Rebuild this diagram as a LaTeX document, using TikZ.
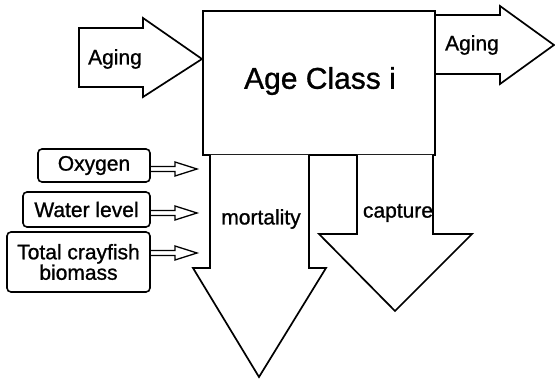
\documentclass[tikz,border=0pt]{standalone}
\usepackage{fontspec}
\setmainfont{Liberation Sans}[BoldFont=Liberation Sans,BoldFeatures={FakeBold=1}]
\begin{document}
\begin{tikzpicture}[x=1pt,y=-1pt,
  outl/.style={draw=black,line width=1.7pt,line join=miter,fill=white},
  lbl/.style={font=\fontsize{21}{23}\selectfont\bfseries,inner sep=0pt},
  factor/.style={draw=black,line width=1.6pt,rounded corners=4pt,fill=white,inner sep=0pt,
    font=\fontsize{21}{21.5}\selectfont\bfseries,align=center},
  dbl/.style={draw=black,line width=1.3pt,fill=white,line join=miter}]
\useasboundingbox (0,0) rectangle (555,382);
% main box
\draw[outl] (203,11) rectangle (435,155);
\node[inner sep=0pt,font=\fontsize{30}{32}\selectfont\bfseries] (main) at (320,81) {Age Class i};
% left aging arrow
\draw[outl] (79,28) -- (143,28) -- (143,18) -- (202,59) -- (143,97) -- (143,87) -- (79,87) -- cycle;
\node[lbl] (agein) at (115,59) {Aging};
% right aging arrow
\draw[outl] (436,15) -- (500,15) -- (500,6) -- (554,45) -- (500,84) -- (500,74) -- (436,74);
\node[lbl] (ageout) at (472,45) {Aging};
% mortality arrow
\draw[outl] (210,155) -- (210,268) -- (193,268) -- (259,377) -- (326,268) -- (309,268) -- (309,155);
\node[lbl] (mort) at (261,219) {mortality};
% capture arrow
\draw[outl] (357,155) -- (357,234) -- (319,234) -- (395,311) -- (472,234) -- (433,234) -- (433,155);
\node[lbl] (capt) at (398,213) {capture};
% factor boxes
\path[factor] (38,149) rectangle (150,182);
\node[factor,draw=none,fill=none] (oxy) at (94,165.5) {Oxygen};
\path[factor] (23,192) rectangle (150,227);
\node[factor,draw=none,fill=none] (water) at (86.5,209.5) {Water level};
\path[factor] (7,232) rectangle (150,292);
\node[factor,draw=none,fill=none] (bio) at (78.5,262) {Total crayfish\\[-1pt]biomass};
% double arrows
\coordinate (o1) at (151,169);
\coordinate (w1) at (151,213);
\coordinate (b1) at (151,253);
\foreach \c in {o1,w1,b1}{
  \draw[dbl] (\c) ++(0,-2.5) -- ++(24,0) -- ++(0,-4.5) -- ++(22,7) -- ++(-22,7) -- ++(0,-4.5) -- ++(-24,0);
}
\end{tikzpicture}
\end{document}
